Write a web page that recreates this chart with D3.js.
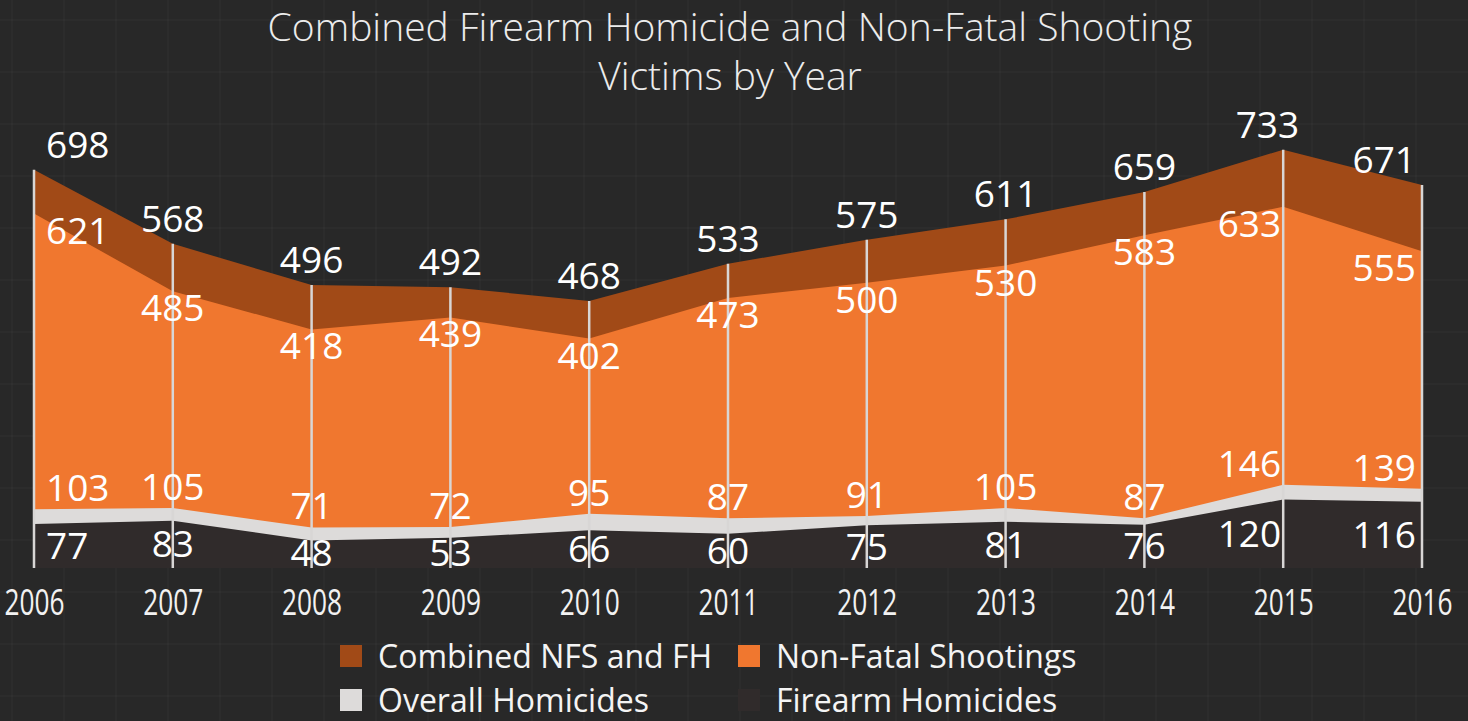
<!DOCTYPE html>
<html>
<head>
<meta charset="utf-8">
<script src="https://cdn.jsdelivr.net/npm/d3@7"></script>
<style>
  html, body { margin: 0; padding: 0; background: #262626; }
  svg { display: block; }
</style>
</head>
<body>
<svg id="chart"></svg>
<script>
// values
var years = [2006, 2007, 2008, 2009, 2010, 2011, 2012, 2013, 2014, 2015, 2016];
var combined = [698, 568, 496, 492, 468, 533, 575, 611, 659, 733, 671];
var nonFatal = [621, 485, 418, 439, 402, 473, 500, 530, 583, 633, 555];
var overallHom = [103, 105, 71, 72, 95, 87, 91, 105, 87, 146, 139];
var firearmHom = [77, 83, 48, 53, 66, 60, 75, 81, 76, 120, 116];

var legendNames = ['Combined NFS and FH', 'Non-Fatal Shootings', 'Overall Homicides', 'Firearm Homicides'];
var titleLines = ['Combined Firearm Homicide and Non-Fatal Shooting', 'Victims by Year'];

var W = 1468, H = 721;
var base = 568;

var svg = d3.select('#chart')
    .attr('width', W)
    .attr('height', H);

svg.append('rect')
    .attr('width', W)
    .attr('height', H)
    .attr('fill', '#282828');

// faint paper grid in the background
var grid = svg.append('g').attr('stroke', '#ffffff').attr('stroke-opacity', 0.04);
d3.range(12, W, 52).forEach(function(x) {
    grid.append('line').attr('x1', x).attr('x2', x).attr('y1', 0).attr('y2', H);
});
d3.range(20, H, 52).forEach(function(y) {
    grid.append('line').attr('x1', 0).attr('x2', W).attr('y1', y).attr('y2', y);
});

var x = d3.scaleLinear().domain([2006, 2016]).range([34, 1422]);
var y = d3.scaleLinear().domain([0, 750]).range([base, 140]);

// title
svg.append('g').selectAll('text')
    .data(titleLines)
    .enter().append('text')
    .attr('x', 730)
    .attr('y', function(d, i) { return 41 + i * 49; })
    .attr('text-anchor', 'middle')
    .attr('font-family', 'Open Sans, sans-serif')
    .attr('font-weight', 300)
    .attr('font-size', 39)
    .attr('fill', '#ececec')
    .text(function(d) { return d; });

var layers = [
    {vals: combined, color: '#a14a17'},
    {vals: nonFatal, color: '#f0772f'},
    {vals: overallHom, color: '#dddbda'},
    {vals: firearmHom, color: '#302b2b'}
];

var plot = svg.append('g');

layers.forEach(function(l) {
    var area = d3.area()
        .x(function(d, i) { return x(years[i]); })
        .y0(base)
        .y1(function(d) { return y(d); });
    plot.append('path')
        .datum(l.vals)
        .attr('d', area)
        .attr('fill', l.color);
});

// year rules
plot.selectAll('line.rule')
    .data(years)
    .enter().append('line')
    .attr('class', 'rule')
    .attr('x1', function(d) { return x(d); })
    .attr('x2', function(d) { return x(d); })
    .attr('y1', function(d, i) { return y(combined[i]); })
    .attr('y2', base)
    .attr('stroke', '#d8d6d5')
    .attr('stroke-width', 2.5);

var n = years.length;

function labelRow(vals, yFn, special2015) {
    plot.append('g').selectAll('text')
        .data(vals)
        .enter().append('text')
        .attr('x', function(d, i) {
            var px = x(years[i]);
            if (i === 0) return px + 12;
            if (i === n - 1) return px - 6;
            if (i === n - 2) return special2015 ? px + 16 : px - 2;
            return px;
        })
        .attr('y', function(d, i) { return yFn(d, i); })
        .attr('text-anchor', function(d, i) {
            if (i === 0) return 'start';
            if (i >= n - 2) return 'end';
            return 'middle';
        })
        .attr('font-family', 'Open Sans, sans-serif')
        .attr('font-weight', 500)
        .attr('font-size', 37)
        .attr('fill', '#ffffff')
        .text(function(d) { return d; });
}

labelRow(combined, function(d) { return y(d) - 12; }, true);
labelRow(nonFatal, function(d) { return y(d) + 30; });
labelRow(overallHom, function(d) { return y(d) - 8; });
labelRow(firearmHom, function(d) { return Math.min((y(d) + base) / 2 + 13, 566); });

// x axis labels
var xAxis = svg.append('g')
    .attr('transform', 'translate(0,' + (base + 2) + ')')
    .call(d3.axisBottom(x).tickValues(years).tickFormat(d3.format('d')).tickSize(0).tickPadding(0));
xAxis.select('.domain').remove();
xAxis.selectAll('text')
    .attr('y', 45)
    .attr('dy', 0)
    .attr('transform', 'scale(0.73,1)')
    .attr('fill', '#f2f2f2')
    .attr('font-family', 'Open Sans, sans-serif')
    .attr('font-weight', 500)
    .attr('font-size', 36);

// legend
var legend = svg.append('g');
var legItems = legend.selectAll('g')
    .data(legendNames)
    .enter().append('g')
    .attr('transform', function(d, i) {
        return 'translate(' + (340 + (i % 2) * 398) + ',' + (645 + Math.floor(i / 2) * 44) + ')';
    });
legItems.append('rect')
    .attr('width', 22)
    .attr('height', 22)
    .attr('fill', function(d, i) { return layers[i].color; });
legItems.append('text')
    .attr('x', 38)
    .attr('y', 23)
    .attr('font-family', 'Open Sans, sans-serif')
    .attr('font-size', 32)
    .attr('fill', '#f4f4f4')
    .text(function(d) { return d; });
</script>
</body>
</html>
